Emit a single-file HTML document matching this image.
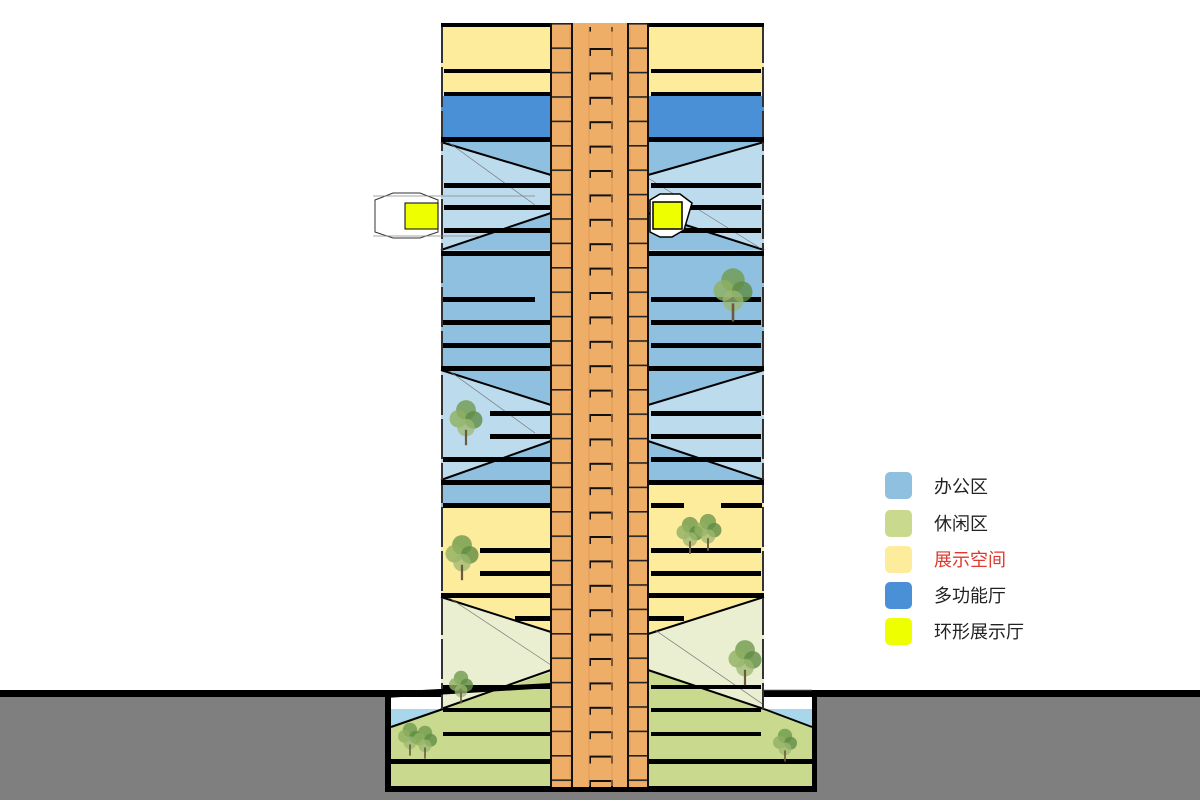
<!DOCTYPE html>
<html><head><meta charset="utf-8"><style>
html,body{margin:0;padding:0;background:#fff;width:1200px;height:800px;overflow:hidden}
svg{display:block}
.t{font-family:"Liberation Sans","Noto Sans CJK SC",sans-serif;font-size:18px;fill:#222}
</style></head><body>
<svg width="1200" height="800" viewBox="0 0 1200 800">
<defs>
<pattern id="cells" x="0" y="23" width="20" height="24.4" patternUnits="userSpaceOnUse">
<rect width="20" height="24.4" fill="#efae67"/>
<rect y="0" width="20" height="1.6" fill="#222"/>
<line x1="10" y1="4" x2="10" y2="22" stroke="#e09a55" stroke-width="1"/>
</pattern>
<pattern id="stairs" x="589" y="48" width="24" height="24.4" patternUnits="userSpaceOnUse">
<path d="M1,8 V1 H23 V8" fill="none" stroke="#111" stroke-width="2"/>
</pattern>
<g id="tree">
<circle cx="0" cy="0" r="9" fill="#6f9a4e" opacity=".8"/>
<circle cx="-7" cy="8" r="8" fill="#8fb060" opacity=".8"/>
<circle cx="7" cy="9" r="8" fill="#5f8c44" opacity=".8"/>
<circle cx="0" cy="16" r="8" fill="#9cb870" opacity=".75"/>
<rect x="-1" y="18" width="2" height="14" fill="#6b5a3e"/>
</g>
</defs>

<!-- ground -->
<rect x="0" y="690" width="1200" height="110" fill="#7f7f7f"/>
<rect x="0" y="690" width="1200" height="7" fill="#000"/>
<rect x="385" y="690" width="432" height="102" fill="#000"/>
<rect x="391" y="697" width="421" height="89" fill="#fff"/>
<rect x="391" y="709" width="421" height="18" fill="#a8d6ea"/>
<polygon points="391,727 443,709 764,709 812,727 812,786 391,786" fill="#c9d98e"/>

<!-- bands -->
<rect x="441" y="27" width="323" height="69" fill="#fcec9c"/>
<rect x="441" y="96" width="323" height="42" fill="#4a90d6"/>
<rect x="441" y="142" width="323" height="111" fill="#bcdcee"/>
<polygon points="441,142 551,142 551,175" fill="#8fc0e0"/>
<polygon points="441,250 551,250 551,213" fill="#8fc0e0"/>
<polygon points="764,142 648,142 648,175" fill="#8fc0e0"/>
<polygon points="764,250 648,250 648,213" fill="#8fc0e0"/>
<rect x="441" y="253" width="323" height="117" fill="#8fc0e0"/>
<rect x="441" y="370" width="323" height="112" fill="#bcdcee"/>
<polygon points="441,370 551,370 551,405" fill="#8fc0e0"/>
<polygon points="441,480 551,480 551,441" fill="#8fc0e0"/>
<polygon points="764,370 648,370 648,405" fill="#8fc0e0"/>
<polygon points="764,480 648,480 648,441" fill="#8fc0e0"/>
<rect x="441" y="482" width="110" height="25" fill="#8fc0e0"/>
<rect x="648" y="482" width="116" height="25" fill="#fcec9c"/>
<rect x="441" y="507" width="323" height="90" fill="#fcec9c"/>
<rect x="441" y="597" width="323" height="112" fill="#e9efd0"/>
<polygon points="441,597 551,597 551,632" fill="#fcec9c"/>
<polygon points="764,597 648,597 648,634" fill="#fcec9c"/>
<polygon points="443,709 551,672 551,709" fill="#c9d98e"/>
<polygon points="764,709 648,670 648,709" fill="#c9d98e"/>

<!-- diagonal lines -->
<g stroke="#000" stroke-width="2" fill="none">
<line x1="441" y1="142" x2="551" y2="175"/><line x1="441" y1="250" x2="551" y2="213"/>
<line x1="764" y1="142" x2="648" y2="175"/><line x1="764" y1="250" x2="648" y2="213"/>
<line x1="441" y1="370" x2="551" y2="405"/><line x1="441" y1="480" x2="551" y2="441"/>
<line x1="764" y1="370" x2="648" y2="405"/><line x1="764" y1="480" x2="648" y2="441"/>
<line x1="441" y1="597" x2="551" y2="632"/><line x1="441" y1="709" x2="551" y2="670"/>
<line x1="764" y1="597" x2="648" y2="634"/><line x1="764" y1="709" x2="648" y2="670"/>
<line x1="391" y1="727" x2="443" y2="709"/><line x1="812" y1="727" x2="764" y2="709"/>
</g>
<g stroke="#777" stroke-width=".7" fill="none">
<line x1="448" y1="142" x2="535" y2="205"/><line x1="648" y1="178" x2="760" y2="248"/>
<line x1="448" y1="370" x2="535" y2="433"/><line x1="448" y1="597" x2="551" y2="665"/>
<line x1="655" y1="630" x2="764" y2="705"/><line x1="764" y1="690" x2="812" y2="690"/>
</g>
<!-- walls -->
<line x1="442" y1="23" x2="442" y2="709" stroke="#333" stroke-width="2" stroke-dasharray="40,4"/>
<line x1="763" y1="23" x2="763" y2="709" stroke="#333" stroke-width="2" stroke-dasharray="40,4"/>

<!-- slabs -->
<g fill="#000">
<rect x="441" y="23" width="323" height="4"/>
<rect x="444" y="69" width="107" height="4"/><rect x="651" y="69" width="110" height="4"/>
<rect x="444" y="92" width="107" height="4"/><rect x="651" y="92" width="110" height="4"/>
<rect x="441" y="137" width="110" height="5"/><rect x="648" y="137" width="116" height="5"/>
<rect x="444" y="183" width="107" height="5"/><rect x="651" y="183" width="110" height="5"/>
<rect x="444" y="205" width="107" height="5"/><rect x="651" y="205" width="110" height="5"/>
<rect x="444" y="228" width="107" height="5"/><rect x="651" y="228" width="110" height="5"/>
<rect x="441" y="251" width="110" height="5"/><rect x="648" y="251" width="116" height="5"/>
<rect x="443" y="297" width="92" height="5"/><rect x="651" y="297" width="110" height="5"/>
<rect x="443" y="320" width="108" height="5"/><rect x="651" y="320" width="110" height="5"/>
<rect x="443" y="343" width="108" height="5"/><rect x="651" y="343" width="110" height="5"/>
<rect x="441" y="366" width="110" height="5"/><rect x="648" y="366" width="116" height="5"/>
<rect x="490" y="411" width="61" height="5"/><rect x="651" y="411" width="110" height="5"/>
<rect x="490" y="434" width="61" height="5"/><rect x="651" y="434" width="110" height="5"/>
<rect x="443" y="457" width="108" height="5"/><rect x="651" y="457" width="110" height="5"/>
<rect x="441" y="480" width="110" height="5"/><rect x="648" y="480" width="116" height="5"/>
<rect x="443" y="503" width="108" height="5"/><rect x="651" y="503" width="33" height="5"/><rect x="721" y="503" width="41" height="5"/>
<rect x="480" y="548" width="71" height="5"/><rect x="651" y="548" width="110" height="5"/>
<rect x="480" y="571" width="71" height="5"/><rect x="651" y="571" width="110" height="5"/>
<rect x="441" y="593" width="110" height="5"/><rect x="648" y="593" width="116" height="5"/>
<rect x="515" y="616" width="36" height="5"/><rect x="648" y="616" width="36" height="5"/>
<rect x="443" y="708" width="108" height="4"/><rect x="651" y="708" width="110" height="4"/>
<rect x="443" y="732" width="108" height="4"/><rect x="651" y="732" width="110" height="4"/>
<rect x="391" y="759" width="421" height="5"/>
<polygon points="385,692 551,683 551,688 385,698"/>
<rect x="443" y="685" width="108" height="4"/><rect x="651" y="685" width="110" height="4"/>
</g>

<!-- core -->
<rect x="551" y="23" width="97" height="764" fill="#efae67"/>
<rect x="551" y="23" width="21" height="764" fill="url(#cells)"/>
<rect x="628" y="23" width="20" height="764" fill="url(#cells)"/>
<rect x="589" y="27" width="24" height="760" fill="url(#stairs)"/>
<g stroke="#e09a55" stroke-width="1"><line x1="589" y1="27" x2="589" y2="786"/><line x1="612" y1="27" x2="612" y2="786"/></g>
<g stroke="#111" stroke-width="2">
<line x1="551" y1="23" x2="551" y2="787"/><line x1="572" y1="23" x2="572" y2="787"/>
<line x1="628" y1="23" x2="628" y2="787"/><line x1="648" y1="23" x2="648" y2="787"/>
</g>

<!-- cantilever ring halls -->
<polygon points="375,200 393,193 420,193 438,200 438,232 420,238 393,238 375,232" fill="#fff" stroke="#333" stroke-width="1"/>
<line x1="373" y1="196" x2="535" y2="196" stroke="#888" stroke-width=".8"/>
<line x1="373" y1="236" x2="480" y2="236" stroke="#888" stroke-width=".8"/>
<rect x="405" y="203" width="33" height="26" fill="#eeff00" stroke="#000" stroke-width="1"/>
<polygon points="650,200 660,194 680,194 692,203 684,230 672,237 660,237 650,232" fill="#fff" stroke="#000" stroke-width="1.5"/>
<rect x="653" y="202" width="29" height="27" fill="#eeff00" stroke="#000" stroke-width="1.5"/>

<!-- trees -->
<use href="#tree" transform="translate(733,280) scale(1.3)"/>
<use href="#tree" transform="translate(466,410) scale(1.1)"/>
<use href="#tree" transform="translate(462,545) scale(1.1)"/>
<use href="#tree" transform="translate(690,525) scale(.9)"/>
<use href="#tree" transform="translate(708,522) scale(.9)"/>
<use href="#tree" transform="translate(745,650) scale(1.1)"/>
<use href="#tree" transform="translate(461,678) scale(.8)"/>
<use href="#tree" transform="translate(410,730) scale(.8)"/>
<use href="#tree" transform="translate(425,733) scale(.8)"/>
<use href="#tree" transform="translate(785,736) scale(.8)"/>

<!-- legend -->
<rect x="885" y="472" width="27" height="27" rx="5" fill="#8fc0e0"/>
<rect x="885" y="510" width="27" height="27" rx="5" fill="#c9d98e"/>
<rect x="885" y="546" width="27" height="27" rx="5" fill="#fcec9c"/>
<rect x="885" y="582" width="27" height="27" rx="5" fill="#4a90d6"/>
<rect x="885" y="618" width="27" height="27" rx="5" fill="#eeff00"/>
<text class="t" x="934" y="493">办公区</text>
<text class="t" x="934" y="530">休闲区</text>
<text class="t" x="934" y="566" style="fill:#e0382c">展示空间</text>
<text class="t" x="934" y="602">多功能厅</text>
<text class="t" x="934" y="638">环形展示厅</text>
</svg>
</body></html>
